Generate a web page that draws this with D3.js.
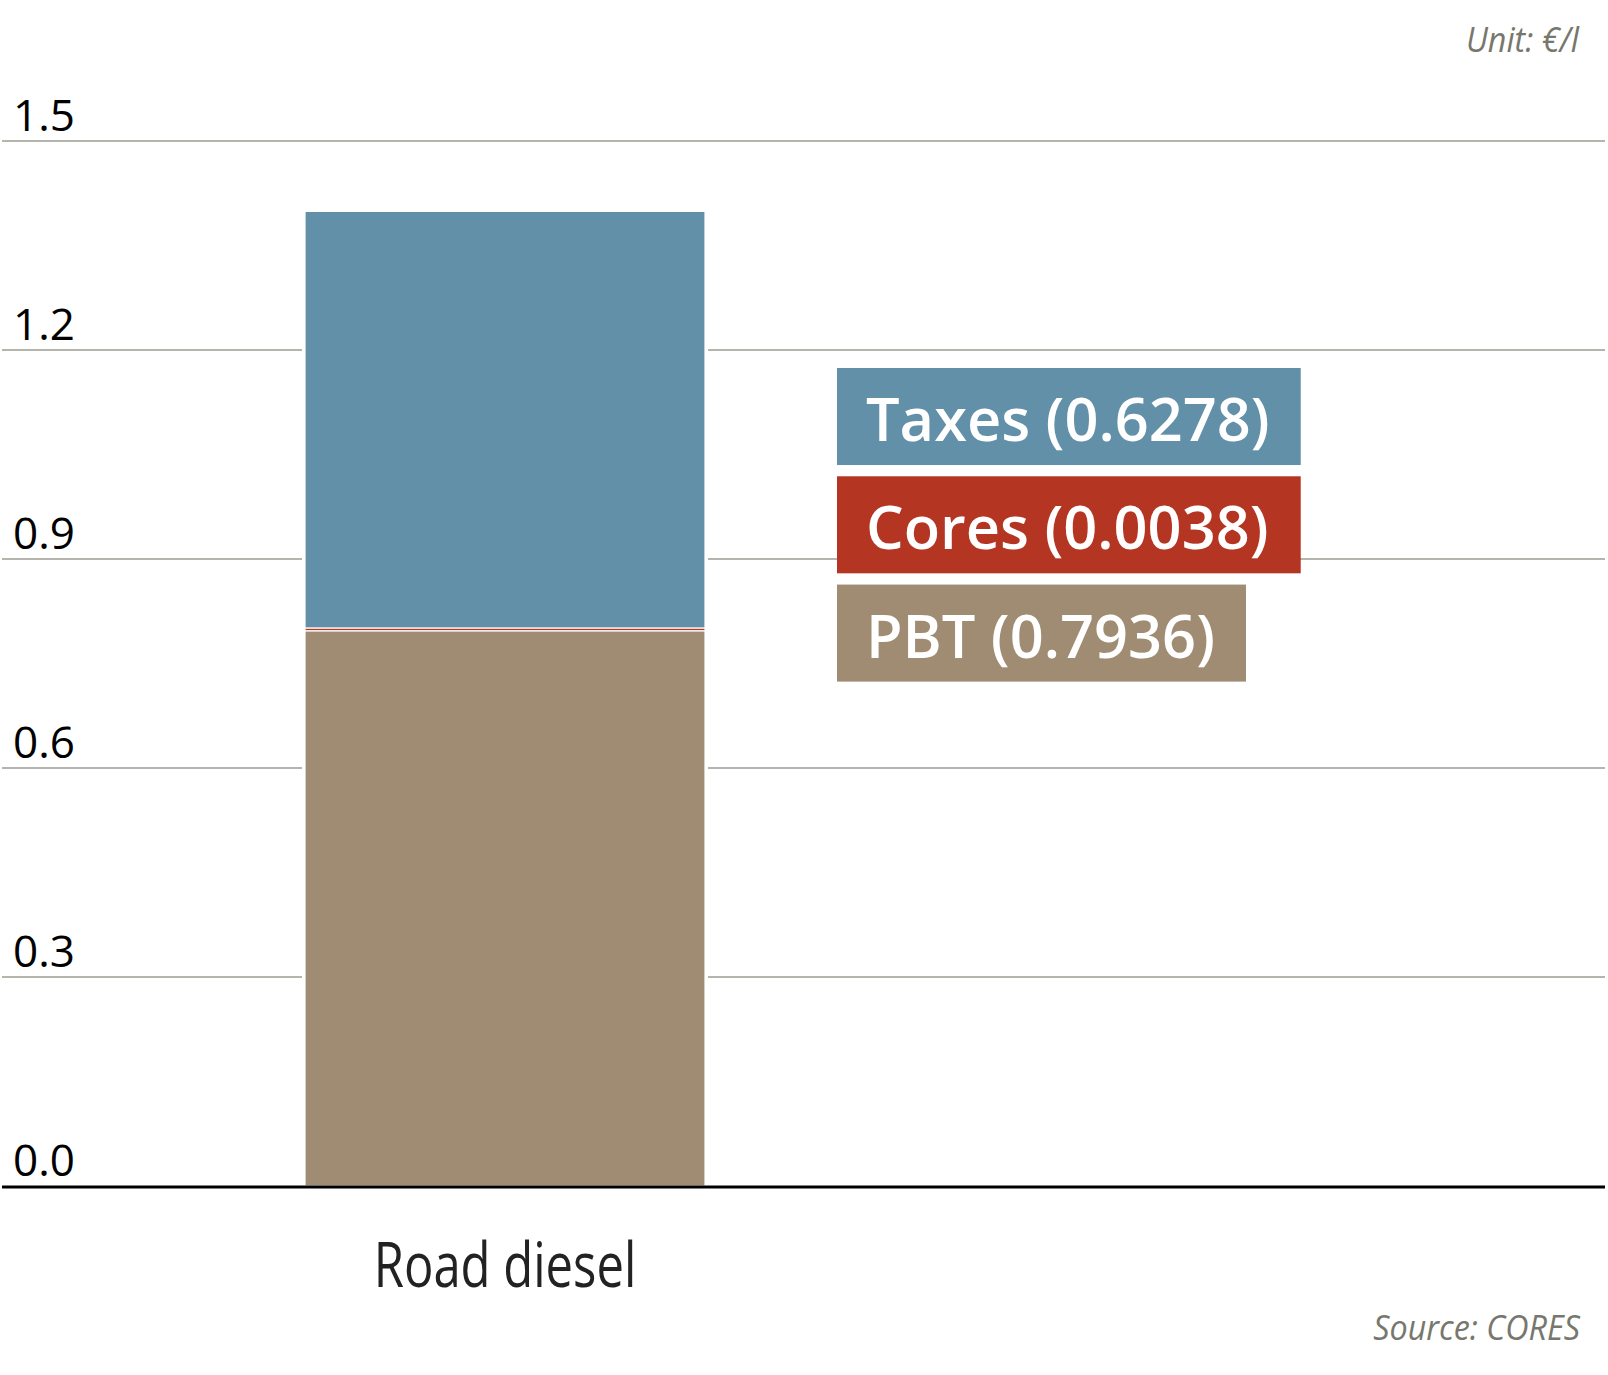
<!DOCTYPE html>
<html lang="en">
<head>
  <meta charset="UTF-8" />
  <title>Road diesel price breakdown</title>
  <style>
    *{margin:0;padding:0;box-sizing:border-box}
    body{background:#fff;font-family:"Open Sans",sans-serif}
    svg{display:block}
  </style>
</head>
<body>
  <div id="chart"></div>

  <script src="https://cdnjs.cloudflare.com/ajax/libs/d3/7.8.5/d3.min.js"></script>
  <script>
    // data, bottom segment first
    const categories  = ['Road diesel'];
    const series      = ['PBT', 'Cores', 'Taxes'];
    const barValues   = [0.797, 0.004, 0.598];      // as drawn in the bar
    const labelValues = ['0.7936', '0.0038', '0.6278']; // as printed in the legend
    const colors      = ['#a08c73', '#b33522', '#6190a8'];
    const yTicks      = [0, 0.3, 0.6, 0.9, 1.2, 1.5];

    const width = 1608, height = 1375;
    const gridLeft = 2, gridRight = 1605;

    const svg = d3.select('#chart').append('svg')
      .attr('width', width).attr('height', height);

    const y = d3.scaleLinear().domain([0, 1.5]).range([1186, 141]);
    const x = d3.scaleBand().domain(categories).range([105, 905]).paddingOuter(0.5);

    // gridlines + tick labels
    const grid = svg.append('g');
    grid.selectAll('line')
      .data(yTicks.filter(d => d > 0))
      .join('line')
      .attr('x1', gridLeft).attr('x2', gridRight)
      .attr('y1', d => y(d)).attr('y2', d => y(d))
      .attr('stroke', '#9c9c92').attr('stroke-width', 1.6);

    grid.selectAll('text')
      .data(yTicks)
      .join('text')
      .attr('x', 13)
      .attr('y', d => y(d) - 10)
      .attr('font-size', 44)
      .attr('fill', '#000')
      .text(d3.format('.1f'));

    // stacked bar
    const row = {cat: categories[0]};
    series.forEach((s, i) => row[s] = barValues[i]);
    const stacked = d3.stack().keys(series)([row]);
    const total = d3.sum(barValues);

    // white backing so the gridlines stop short of the bar
    svg.append('rect')
      .attr('x', x(categories[0]) - 3)
      .attr('width', x.bandwidth() + 6)
      .attr('y', y(total))
      .attr('height', y(0) - y(total))
      .attr('fill', '#fff');

    svg.append('g').selectAll('rect')
      .data(stacked)
      .join('rect')
      .attr('x', x(categories[0]))
      .attr('width', x.bandwidth())
      .attr('y', d => y(d[0][1]))
      .attr('height', d => y(d[0][0]) - y(d[0][1]))
      .attr('fill', (d, i) => colors[i])
      .attr('stroke', '#fff')
      .attr('stroke-width', 1.2);

    // baseline
    svg.append('line')
      .attr('x1', gridLeft).attr('x2', gridRight)
      .attr('y1', y(0) + 1).attr('y2', y(0) + 1)
      .attr('stroke', '#000').attr('stroke-width', 3);

    // category label (condensed look)
    svg.append('g')
      .attr('transform', `translate(${x(categories[0]) + x.bandwidth() / 2},1287) scale(0.79,1)`)
      .append('text')
      .attr('text-anchor', 'middle')
      .attr('font-size', 62)
      .attr('fill', '#222')
      .text(categories[0]);

    // legend, top row = last series
    const order = d3.range(series.length).reverse();
    const ly = d3.scaleBand().domain(order).range([368, 681.6]).paddingInner(0.104);
    const legend = svg.append('g');
    const items = legend.selectAll('g')
      .data(order)
      .join('g')
      .attr('transform', i => `translate(837,${ly(i)})`);

    const boxes = items.append('rect')
      .attr('height', ly.bandwidth())
      .attr('fill', i => colors[i]);

    const labels = items.append('text')
      .attr('x', 29)
      .attr('y', 73)
      .attr('font-size', 59.5)
      .attr('font-weight', 600)
      .attr('fill', '#fff')
      .text(i => `${series[i]} (${labelValues[i]})`);

    const tw = labels.nodes().map(n => n.getComputedTextLength());
    // the two upper boxes share one width, the lowest fits its text
    const upper = Math.max(tw[0], tw[1]) + 60;
    boxes.attr('width', (i, k) => k < 2 ? upper : tw[k] + 60);

    // notes
    svg.append('g')
      .attr('transform', 'translate(1579,52) scale(0.95,1)')
      .append('text')
      .attr('text-anchor', 'end')
      .attr('font-size', 34)
      .attr('font-style', 'italic')
      .attr('fill', '#77776e')
      .text('Unit: €/l');

    svg.append('g')
      .attr('transform', 'translate(1580,1340) scale(0.95,1)')
      .append('text')
      .attr('text-anchor', 'end')
      .attr('font-size', 34)
      .attr('font-style', 'italic')
      .attr('fill', '#77776e')
      .text('Source: CORES');
  </script>
</body>
</html>
